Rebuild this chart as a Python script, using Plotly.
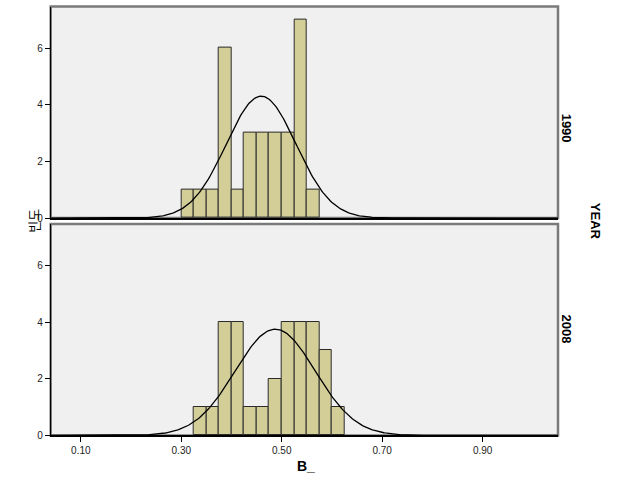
import numpy as np
import plotly.graph_objects as go

# ---- data ----
bin_width = 0.025
centers_1990 = [0.3125, 0.3375, 0.3625, 0.3875, 0.4125, 0.4375, 0.4625, 0.4875, 0.5125, 0.5375, 0.5625]
counts_1990 = [1, 1, 1, 6, 1, 3, 3, 3, 3, 7, 1]
centers_2008 = [0.3375, 0.3625, 0.3875, 0.4125, 0.4375, 0.4625, 0.4875, 0.5125, 0.5375, 0.5625, 0.5875, 0.6125]
counts_2008 = [1, 1, 4, 4, 1, 1, 2, 4, 4, 4, 3, 1]
mean_1990, sd_1990, n_1990 = 0.459, 0.0696, 30
mean_2008, sd_2008, n_2008 = 0.487, 0.0798, 30
x_ticks = [0.10, 0.30, 0.50, 0.70, 0.90]
x_ticklabels = ["0.10", "0.30", "0.50", "0.70", "0.90"]
y_ticks = [0, 2, 4, 6]
panel_labels = ["1990", "2008"]

W, H = 629, 504
xr = [0.04, 1.05]
yr = [0, 7.46]
px = lambda p: p / W
py = lambda p: 1 - p / H

x_dom = [px(50.7), px(558)]
top_dom = [py(220.7), py(6.7)]
bot_dom = [py(440.7), py(226.7)]

bar_color = "#D3CE97"
fig = go.Figure()

def normal_curve(mean, sd, n):
    xs = np.linspace(xr[0], xr[1], 400)
    ys = n * bin_width / (sd * np.sqrt(2 * np.pi)) * np.exp(-0.5 * ((xs - mean) / sd) ** 2)
    return xs, ys

for centers, counts, mean, sd, n, xa, ya in [
    (centers_1990, counts_1990, mean_1990, sd_1990, n_1990, "x", "y"),
    (centers_2008, counts_2008, mean_2008, sd_2008, n_2008, "x2", "y2"),
]:
    fig.add_trace(go.Bar(x=centers, y=counts, width=bin_width, xaxis=xa, yaxis=ya,
                         marker=dict(color=bar_color, line=dict(color="#2a2a2a", width=1)),
                         showlegend=False, hoverinfo="skip"))
    cx, cy = normal_curve(mean, sd, n)
    fig.add_trace(go.Scatter(x=cx, y=cy, mode="lines", xaxis=xa, yaxis=ya,
                             line=dict(color="black", width=1.3), showlegend=False))

tickfont = dict(family="Liberation Sans, Arial", size=10, color="#222")
fig.update_layout(
    width=W, height=H, margin=dict(l=0, r=0, t=0, b=0),
    paper_bgcolor="white", plot_bgcolor="rgba(0,0,0,0)",
    bargap=0,
    xaxis=dict(domain=x_dom, range=xr, anchor="y", showticklabels=False, ticks="",
               showgrid=False, zeroline=False, showline=True, linecolor="black", linewidth=2),
    yaxis=dict(domain=top_dom, range=yr, anchor="x", tickvals=y_ticks, ticks="outside",
               ticklen=5, tickcolor="black", tickfont=tickfont, showgrid=False, zeroline=False,
               showline=True, linecolor="black", linewidth=1),
    xaxis2=dict(domain=x_dom, range=xr, anchor="y2", tickvals=x_ticks, ticktext=x_ticklabels,
                ticks="outside", ticklen=5, tickcolor="black", tickfont=tickfont,
                showgrid=False, zeroline=False, showline=True, linecolor="black", linewidth=2),
    yaxis2=dict(domain=bot_dom, range=yr, anchor="x2", tickvals=y_ticks, ticks="outside",
                ticklen=5, tickcolor="black", tickfont=tickfont, showgrid=False, zeroline=False,
                showline=True, linecolor="black", linewidth=1),
)

for dom in (top_dom, bot_dom):
    fig.add_shape(type="rect", xref="paper", yref="paper", x0=x_dom[0], x1=x_dom[1],
                  y0=dom[0], y1=dom[1], fillcolor="#F0F0F0",
                  line=dict(color="#7A7A7A", width=2.5), layer="below")

bold = dict(family="Liberation Sans, Arial", size=13, color="black")
fig.add_annotation(text="<b>1990</b>", x=px(576), y=py(113), xref="paper", yref="paper",
                   textangle=90, showarrow=False, font=bold)
fig.add_annotation(text="<b>2008</b>", x=px(576), y=py(333), xref="paper", yref="paper",
                   textangle=90, showarrow=False, font=bold)
fig.add_annotation(text="<b>YEAR</b>", x=px(605), y=py(224), xref="paper", yref="paper",
                   textangle=90, showarrow=False, font=bold)
fig.add_annotation(text="<b>B_</b>", x=px(306), y=py(482), xref="paper", yref="paper",
                   showarrow=False, font=dict(family="Liberation Sans, Arial", size=14, color="black"))
fig.add_annotation(text="빈도", x=px(22), y=py(224), xref="paper", yref="paper",
                   textangle=-90, showarrow=False,
                   font=dict(family="Noto Sans CJK KR", size=13, color="black"))

fig.write_html("out.html")
